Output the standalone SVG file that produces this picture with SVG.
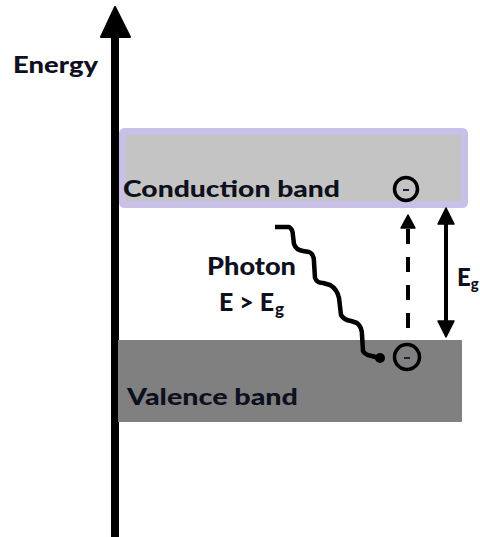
<svg xmlns="http://www.w3.org/2000/svg" width="480" height="537" viewBox="0 0 480 537">
  <defs>
    <style>
      .lbl { font-family: Lato, "Open Sans", "Liberation Sans", sans-serif; font-weight: 900; fill: #0e1020; }
      .ln { fill: none; stroke: #000; stroke-width: 4.5; stroke-linejoin: round; stroke-linecap: butt; }
      .el { fill: none; stroke: #000; stroke-width: 3.5; }
      .minus { stroke: #1a2040; stroke-width: 2; }
    </style>
  </defs>
  <rect width="480" height="537" fill="#ffffff"/>

  <g id="energy-axis">
    <rect x="111" y="36" width="8" height="501" fill="#000"/>
    <polygon points="115,7 130,37 101,37" fill="#000" stroke="#000" stroke-width="2" stroke-linejoin="round"/>
    <text class="lbl" x="13" y="73" font-size="22" textLength="85" lengthAdjust="spacingAndGlyphs">Energy</text>
  </g>

  <g id="conduction-band">
    <rect x="122.5" y="131.5" width="342" height="73" fill="#c4c4c4" stroke="#c8c0e6" stroke-width="7" rx="2"/>
    <text class="lbl" x="123" y="197" font-size="23" textLength="217" lengthAdjust="spacingAndGlyphs">Conduction band</text>
  </g>

  <g id="valence-band">
    <rect x="118" y="340" width="344" height="82" fill="#808080"/>
    <text class="lbl" x="127" y="405" font-size="23" textLength="171" lengthAdjust="spacingAndGlyphs">Valence band</text>
  </g>

  <g id="electron-conduction">
    <circle class="el" cx="406" cy="189" r="11.5"/>
    <line class="minus" x1="403" y1="190" x2="409" y2="190"/>
  </g>

  <g id="electron-valence">
    <circle class="el" cx="407" cy="357" r="12.5"/>
    <line class="minus" x1="404" y1="358" x2="410" y2="358"/>
  </g>

  <g id="photon-label">
    <text class="lbl" x="207" y="275" font-size="24" textLength="89" lengthAdjust="spacingAndGlyphs">Photon</text>
    <text class="lbl" x="219" y="311" font-size="24" textLength="55" lengthAdjust="spacingAndGlyphs">E &gt; E</text>
    <text class="lbl" x="275" y="315" font-size="17">g</text>
  </g>

  <g id="eg-label">
    <text class="lbl" x="457" y="286" font-size="24">E<tspan font-size="15" dy="3">g</tspan></text>
  </g>

  <g id="connectors">
    <path class="ln" d="M275,227 L289,227 Q293,229 293,236 L294,244 Q296,250 303,251 L309,252 Q314,254 314,262 L315,278 Q317,283 323,283 L330,285 Q337,289 339,298 L341,315 Q344,320 351,321 L357,323 Q362,327 362,335 L363,351 Q365,355 372,356 L379,358"/>
    <circle cx="380" cy="358" r="5" fill="#000"/>

    <line x1="408" y1="328" x2="408" y2="227" stroke="#000" stroke-width="4" stroke-dasharray="15 13"/>
    <polygon points="408,215 415,228 401,228" fill="#000" stroke="#000" stroke-width="1.5" stroke-linejoin="round"/>

    <line x1="446" y1="220" x2="446" y2="325" stroke="#000" stroke-width="4"/>
    <polygon points="446,208 454,224 438,224" fill="#000" stroke="#000" stroke-width="1.5" stroke-linejoin="round"/>
    <polygon points="446,337 454,321 438,321" fill="#000" stroke="#000" stroke-width="1.5" stroke-linejoin="round"/>
  </g>
</svg>
